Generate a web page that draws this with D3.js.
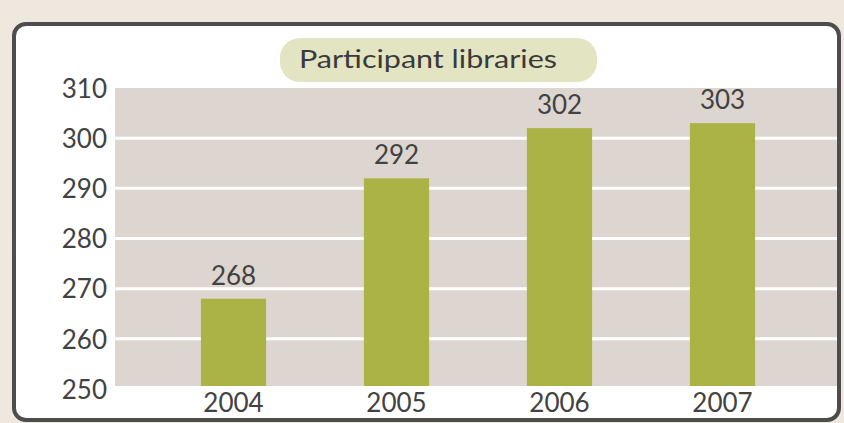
<!DOCTYPE html>
<html>
<head>
<meta charset="utf-8">
<script src="https://cdn.jsdelivr.net/npm/d3@7"></script>
<style>
  html, body { margin: 0; padding: 0; background: #eee8df; }
  svg { display: block; }
</style>
</head>
<body>
<svg width="844" height="423"></svg>
<script>
// chart data
var years = ["2004", "2005", "2006", "2007"];
var libraries = [268, 292, 302, 303];
var yTicks = [250, 260, 270, 280, 290, 300, 310];
var title = "Participant libraries";

var svg = d3.select("svg");
var font = "Lato, 'Open Sans', sans-serif";

// panel
svg.append("rect")
  .attr("x", 14).attr("y", 24)
  .attr("width", 825).attr("height", 396)
  .attr("rx", 12).attr("ry", 12)
  .attr("fill", "#fff")
  .attr("stroke", "#4d4d4d")
  .attr("stroke-width", 4);

var x = d3.scaleBand().domain(years).range([152, 804]).paddingInner(0.6).paddingOuter(0.3);
var y = d3.scaleLinear().domain([250, 310]).range([389, 88]);

// plot background
svg.append("rect")
  .attr("x", 115).attr("y", y(310))
  .attr("width", 722).attr("height", y(250) - y(310) - 3)
  .attr("fill", "#ddd6d0");

// grid lines
svg.selectAll(".grid").data(yTicks.filter(function(d){ return d > 250 && d < 310; }))
  .enter().append("line")
  .attr("x1", 115).attr("x2", 837)
  .attr("y1", function(d){ return y(d); })
  .attr("y2", function(d){ return y(d); })
  .attr("stroke", "#fff")
  .attr("stroke-width", 3);

// bars
svg.selectAll(".bar").data(libraries).enter()
  .append("rect")
  .attr("x", function(d, i){ return x(years[i]); })
  .attr("y", function(d){ return y(d); })
  .attr("width", x.bandwidth())
  .attr("height", function(d){ return y(250) - 3 - y(d); })
  .attr("fill", "#abb347");

// value labels
svg.selectAll(".val").data(libraries).enter()
  .append("text")
  .attr("x", function(d, i){ return x(years[i]) + x.bandwidth() / 2; })
  .attr("y", function(d){ return y(d) - 14; })
  .attr("text-anchor", "middle")
  .attr("font-family", font)
  .attr("font-size", 26)
  .attr("fill", "#424242")
  .text(function(d){ return d; });

// y axis
var yAxis = d3.axisLeft(y).tickValues(yTicks).tickSize(0).tickPadding(0);
var gy = svg.append("g").attr("transform", "translate(107,1)").call(yAxis);
gy.select(".domain").remove();
gy.selectAll("text")
  .attr("font-family", font)
  .attr("font-size", 26)
  .attr("fill", "#424242");

// x axis
var xAxis = d3.axisBottom(x).tickSize(0).tickPadding(0);
var gx = svg.append("g").attr("transform", "translate(0,394)").call(xAxis);
gx.select(".domain").remove();
gx.selectAll("text")
  .attr("font-family", font)
  .attr("font-size", 26)
  .attr("fill", "#424242");

// title pill
svg.append("rect")
  .attr("x", 280).attr("y", 38)
  .attr("width", 317).attr("height", 44)
  .attr("rx", 20).attr("ry", 20)
  .attr("fill", "#e3e4c2");
svg.append("text")
  .attr("x", 428).attr("y", 68)
  .attr("text-anchor", "middle")
  .attr("font-family", font)
  .attr("font-size", 25)
  .attr("textLength", 258)
  .attr("lengthAdjust", "spacingAndGlyphs")
  .attr("fill", "#3a3a3a")
  .text(title);
</script>
</body>
</html>
